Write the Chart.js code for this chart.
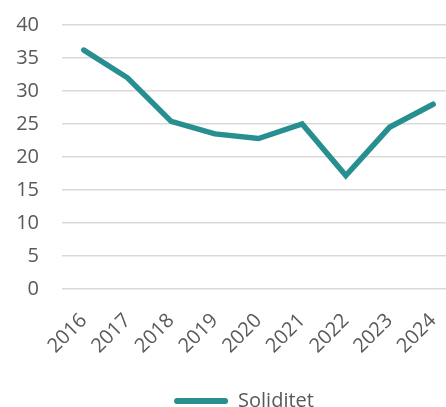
<!DOCTYPE html>
<html>
<head>
<meta charset="utf-8">
<script src="https://cdn.jsdelivr.net/npm/chart.js@4/dist/chart.umd.min.js"></script>
<style>
  html, body { margin: 0; padding: 0; background: #ffffff; overflow: hidden; width: 446px; height: 407px; }
  #wrap { position: absolute; left: 0; top: 0; width: 456px; height: 421px; }
</style>
</head>
<body>
<div id="wrap"><canvas id="c" width="456" height="421"></canvas></div>
<script>
const categories = ["2016", "2017", "2018", "2019", "2020", "2021", "2022", "2023", "2024"];
const soliditet = [36.2, 32.0, 25.4, 23.5, 22.8, 25.0, 17.2, 24.5, 28.0];
const seriesName = "Soliditet";
const yTicks = [0, 5, 10, 15, 20, 25, 30, 35, 40];

const teal = "#278f8f";
const textColor = "#595959";
const fontFamily = "'Open Sans', 'Noto Sans', sans-serif";

const legendShift = {
  id: "legendShift",
  afterLayout(chart) {
    if (chart.legend) { chart.legend.left = 33; }
  }
};

function zeroPad(s) {
  s.paddingLeft = 0; s.paddingRight = 0; s.paddingTop = 0; s.paddingBottom = 0;
}

new Chart(document.getElementById("c"), {
  type: "line",
  data: {
    labels: categories,
    datasets: [{
      label: seriesName,
      data: soliditet,
      borderColor: teal,
      backgroundColor: teal,
      borderWidth: 5.5,
      borderCapStyle: "round",
      borderJoinStyle: "miter",
      pointRadius: 0,
      pointHoverRadius: 0,
      tension: 0,
      fill: false
    }]
  },
  plugins: [legendShift],
  options: {
    responsive: false,
    animation: false,
    devicePixelRatio: 1,
    layout: { padding: { left: 0, right: 1, top: 25, bottom: 0 } },
    plugins: {
      tooltip: { enabled: false },
      legend: {
        position: "bottom",
        labels: {
          font: { family: fontFamily, size: 20 },
          color: textColor,
          boxWidth: 54,
          boxHeight: 6,
          padding: 10,
          useBorderRadius: true,
          borderRadius: 3,
          generateLabels: (chart) => chart.data.datasets.map((ds, i) => ({
            text: ds.label,
            fillStyle: ds.backgroundColor,
            strokeStyle: ds.borderColor,
            lineWidth: 0,
            borderRadius: 3,
            fontColor: textColor,
            datasetIndex: i,
            hidden: false
          }))
        }
      }
    },
    scales: {
      x: {
        offset: true,
        grid: { display: false, drawTicks: false },
        border: { display: false },
        ticks: {
          font: { family: fontFamily, size: 20 },
          color: textColor,
          minRotation: 45,
          maxRotation: 45,
          autoSkip: false,
          padding: 20
        },
        afterFit: (s) => { s.height = 92; zeroPad(s); }
      },
      y: {
        min: 0,
        max: 40,
        grid: { color: "#d9d9d9", lineWidth: 1.5, drawTicks: false },
        border: { display: false },
        afterBuildTicks: (s) => { s.ticks = yTicks.map(v => ({ value: v })); },
        ticks: {
          font: { family: fontFamily, size: 20 },
          color: textColor,
          padding: 23
        },
        afterFit: (s) => { s.width = 62; zeroPad(s); }
      }
    }
  }
});
</script>
</body>
</html>
